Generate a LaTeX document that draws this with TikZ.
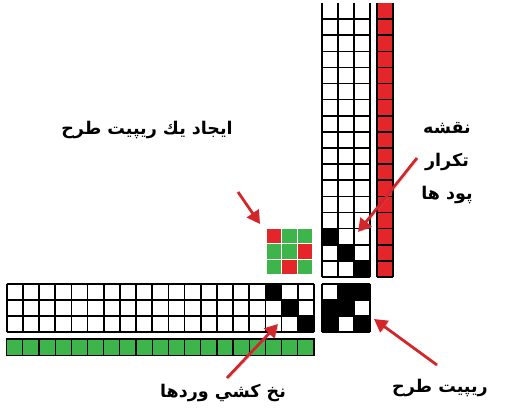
\documentclass[tikz,border=0pt]{standalone}
\usepackage{fontspec}
\newfontfamily\arabicfont[Script=Arabic]{DejaVu Sans}
\TeXXeTstate=1
\usetikzlibrary{arrows.meta,positioning,calc}
\definecolor{weftred}{HTML}{E4252A}
\definecolor{warpgreen}{HTML}{3DB54A}
\definecolor{arrowred}{HTML}{D3262B}

\tikzset{
  cellline/.style={black,line width=1.6pt},
  pointer/.style={arrowred,line width=2.8pt,-{Triangle[length=13pt,width=14pt]},
    preaction={draw=black!40,opacity=0.45,transform canvas={shift={(1.5pt,-1.5pt)}}}},
  farsitext/.style={font=\arabicfont\bfseries\fontsize{17.5}{33}\selectfont,align=center}
}

\begin{document}
\begin{tikzpicture}[x=1pt,y=-1pt]
  \useasboundingbox (0,0) rectangle (506,413);
  % Weft plan (vertical strip)
  \foreach \c/\r in {2/0,1/1,0/2}
    \fill (322+16*\c,277-16.12*\r) rectangle ++(16,-16.12);
  \fill[weftred] (377,3) rectangle (393,277);
  \foreach \r in {0,...,16} {
    \draw[cellline] (322,277-16.12*\r) -- (370,277-16.12*\r);
    \draw[cellline] (377,277-16.12*\r) -- (393,277-16.12*\r);
  }
  \foreach \c in {0,...,3}
    \draw[cellline] (322+16*\c,277) -- (322+16*\c,3);
  \draw[cellline] (377,277) -- (377,3);
  \draw[cellline] (393,277) -- (393,3);
  % Drafting (horizontal strip)
  \foreach \c/\r in {16/0,17/1,18/2}
    \fill (6.7+16.17*\c,284+16*\r) rectangle ++(16.17,16);
  \foreach \r in {0,...,3}
    \draw[cellline] (6.7,284+16*\r) -- (314,284+16*\r);
  \foreach \c in {0,...,19}
    \draw[cellline] (6.7+16.17*\c,284) -- (6.7+16.17*\c,332);
  % Green warp row
  \fill[warpgreen] (6.7,339) rectangle (314,355.7);
  \draw[black,line width=1.2pt] (6.7,339) rectangle (314,355.7);
  \foreach \c in {1,...,18}
    \draw[black,line width=1.2pt] (6.7+16.17*\c,339) -- (6.7+16.17*\c,355.7);
  % Weave repeat
  \foreach \c/\r in {1/0,2/0,0/1,1/1,0/2,2/2}
    \fill (322+16*\c,284+16*\r) rectangle ++(16,16);
  \foreach \i in {0,...,3} {
    \draw[cellline] (322,284+16*\i) -- (370,284+16*\i);
    \draw[cellline] (322+16*\i,284) -- (322+16*\i,332);
  }
  % Small coloured repeat
  \foreach \c in {0,1,2}
    \foreach \r in {0,1,2}
      \fill[warpgreen] (266.5+15.6*\c,228.5+15.6*\r) rectangle ++(14.4,14.4);
  \foreach \c/\r in {0/0,2/1,1/2}
    \fill[weftred] (266.5+15.6*\c,228.5+15.6*\r) rectangle ++(14.4,14.4);
  % Labels
  \node[farsitext] (make) at (147,130) {\beginR ايجاد يك ريپيت طرح\endR};
  \node[farsitext] (plan) at (447,163) {\beginR نقشه\endR\\\beginR تكرار\endR\\\beginR پود ها\endR};
  \node[farsitext] (draft) at (223,393) {\beginR نخ كشي وردها\endR};
  \node[farsitext] (repeat) at (440,388) {\beginR ريپيت طرح\endR};
  % Pointers
  \coordinate (t1) at (238,192);
  \coordinate (h1) at (260,224);
  \coordinate (t2) at (417,158);
  \coordinate (h2) at (358,232);
  \coordinate (t3) at (227,378);
  \coordinate (h3) at (278,324);
  \coordinate (t4) at (437,365);
  \coordinate (h4) at (374,319);
  \draw[pointer] (t1) -- (h1);
  \draw[pointer] (t2) -- (h2);
  \draw[pointer] (t3) -- (h3);
  \draw[pointer] (t4) -- (h4);
\end{tikzpicture}
\end{document}
